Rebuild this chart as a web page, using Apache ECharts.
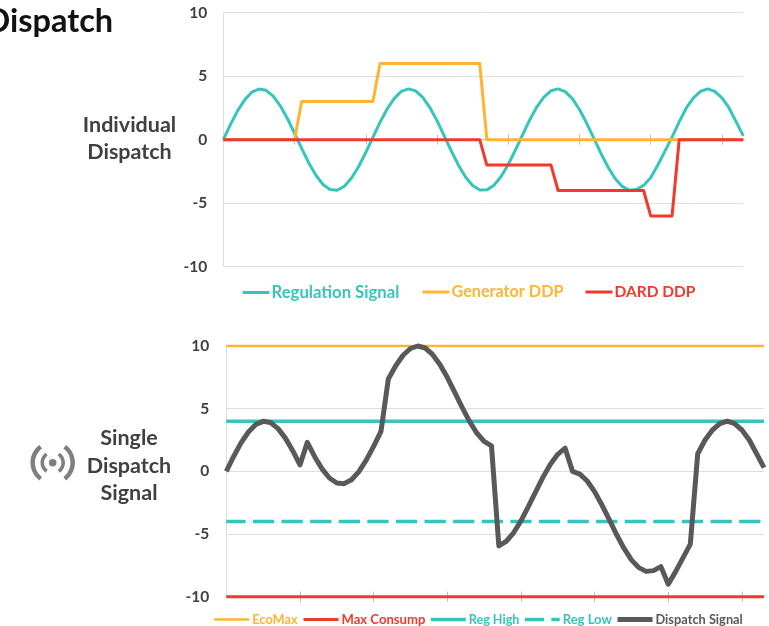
<!DOCTYPE html>
<html>
<head>
<meta charset="utf-8">
<style>html,body{margin:0;padding:0;background:#fff}#c{width:769px;height:626px}</style>
<script src="https://cdn.jsdelivr.net/npm/echarts@6/dist/echarts.min.js"></script>
</head>
<body>
<div id="c"></div>
<script>
const regulationSignal = [0,1.19,2.27,3.14,3.74,3.99,3.89,3.43,2.67,1.67,0.51,-0.69,-1.83,-2.8,-3.53,-3.93,-3.98,-3.67,-3.02,-2.11,-1.01,0.19,1.37,2.42,3.26,3.8,4,3.84,3.33,2.53,1.5,0.32,-0.87,-1.99,-2.94,-3.61,-3.96,-3.95,-3.59,-2.9,-1.95,-0.82,0.37,1.54,2.57,3.36,3.85,4,3.78,3.23,2.38,1.31,0.14,-1.06,-2.15,-3.06,-3.68,-3.98,-3.92,-3.6,-3,-2,-0.9,0.2,1.4,2.5,3.3,3.8,4,3.8,3.3,2.5,1.4,0.3];
const generatorDDP = [0,0,0,0,0,0,0,0,0,0,0,3,3,3,3,3,3,3,3,3,3,3,6,6,6,6,6,6,6,6,6,6,6,6,6,6,6,0,0,0,0,0,0,0,0,0,0,0,0,0,0,0,0,0,0,0,0,0,0,0,0,0,0,0,0,0,0,0,0,0,0,0,0,0];
const dardDDP = [0,0,0,0,0,0,0,0,0,0,0,0,0,0,0,0,0,0,0,0,0,0,0,0,0,0,0,0,0,0,0,0,0,0,0,0,0,-2,-2,-2,-2,-2,-2,-2,-2,-2,-2,-4,-4,-4,-4,-4,-4,-4,-4,-4,-4,-4,-4,-4,-6,-6,-6,-6,0,0,0,0,0,0,0,0,0,0];
const dispatchSignal = [0,1.19,2.27,3.14,3.74,3.99,3.89,3.43,2.67,1.67,0.51,2.31,1.17,0.2,-0.53,-0.93,-0.98,-0.67,-0.02,0.89,1.99,3.19,7.37,8.42,9.26,9.8,10,9.84,9.33,8.53,7.5,6.32,5.13,4.01,3.06,2.39,2.04,-5.95,-5.59,-4.9,-3.95,-2.82,-1.63,-0.46,0.57,1.36,1.85,0,-0.22,-0.77,-1.62,-2.69,-3.86,-5.06,-6.15,-7.06,-7.68,-7.98,-7.92,-7.6,-9,-8,-6.9,-5.8,1.4,2.5,3.3,3.8,4,3.8,3.3,2.5,1.4,0.3];
const ecoMax = [[0,10],[73,10]];
const maxConsump = [[0,-10],[73,-10]];
const regHigh = [[0,4],[73,4]];
const regLow = [[0,-4],[73,-4]];
const tickValues = [10,20,30,40,50,60,70];
const topNames = ['Regulation Signal','Generator DDP','DARD DDP'];
const bottomNames = ['EcoMax','Max Consump','Reg High','Reg Low','Dispatch Signal'];

const TEAL='#36C5BC', ORANGE='#FFB533', RED='#F13A2B', DARK='#595959', GRID='#DEDEDE', TICK='#BDBDBD', TEXT='#404040';
const FONT='Lato';
const xy = a => a.map((v,i)=>[i,v]);

function xAxisFor(grid, inside, main){
  return {type:'value',gridIndex:grid,min:0,max:73,position:'bottom',splitLine:{show:false},axisLabel:{show:false},
    axisLine:{show:true,onZero:true,onZeroAxisIndex:0,lineStyle:{color:main?TICK:'rgba(0,0,0,0)',width:1}},
    axisTick:{show:true,inside:inside,length:5,customValues:tickValues,lineStyle:{color:TICK,width:1}}};
}
function yAxisFor(grid, margin){
  return {type:'value',gridIndex:grid,min:-10,max:10,interval:5,
    axisLine:{show:true,onZero:false,lineStyle:{color:GRID,width:1}},axisTick:{show:false},
    splitLine:{show:true,lineStyle:{color:GRID,width:1}},
    axisLabel:{margin:margin,color:TEXT,fontFamily:FONT,fontWeight:'bold',fontSize:15.5}};
}
function line(name,data,color,width,grid,extra){
  return Object.assign({type:'line',name:name,data:data,xAxisIndex:grid*2,yAxisIndex:grid,
    showSymbol:false,symbol:'none',clip:false,animation:false,silent:true,
    lineStyle:{color:color,width:width,join:'round',cap:'butt'},itemStyle:{color:color}},extra||{});
}
const sideTitle=(text,x,y,size)=>({text:text,left:x,top:y,textAlign:'center',padding:0,
  textStyle:{color:TEXT,fontFamily:FONT,fontWeight:'bold',fontSize:size||21.5}});
const arc=(r,s,e,w)=>({type:'arc',shape:{cx:52.7,cy:462.7,r:r,startAngle:s,endAngle:e,clockwise:true},
  style:{stroke:'#7F7F7F',lineWidth:w,fill:null}});
const rad=d=>d*Math.PI/180;
const legendItem=(name,color,left,top,iconWidth,size,pad)=>({left:left,top:top,itemStyle:{opacity:0},lineStyle:{width:'inherit'},
  itemWidth:iconWidth,itemHeight:14,padding:0,data:[{name:name,textStyle:{color:color}}],
  textStyle:{fontFamily:FONT,fontWeight:'bold',fontSize:size,padding:[0,0,0,pad]}});

const chart=echarts.init(document.getElementById('c'),null,{renderer:'canvas'});
chart.setOption({
  animation:false,
  backgroundColor:'#fff',
  title:[
    {text:'Dispatch',left:-14.5,top:5,padding:0,textStyle:{color:'#111',fontFamily:FONT,fontWeight:'bold',fontSize:32.5}},
    sideTitle('Individual',129.5,114),
    sideTitle('Dispatch',129.5,141),
    sideTitle('Single',129,427),
    sideTitle('Dispatch',129,455),
    sideTitle('Signal',129,482)
  ],
  grid:[
    {left:223.3,top:12.7,width:520,height:254},
    {left:226.3,top:346,width:537.7,height:250.7}
  ],
  xAxis:[xAxisFor(0,true,true),xAxisFor(0,false,false),xAxisFor(1,true,true),xAxisFor(1,false,false)],
  yAxis:[yAxisFor(0,16),yAxisFor(1,17)],
  legend:[
    legendItem(topNames[0],TEAL,241,284,27,16.7,-3),
    legendItem(topNames[1],ORANGE,421,284,27,16.2,-3),
    legendItem(topNames[2],RED,584,284,27,15.5,-3),
    legendItem(bottomNames[0],ORANGE,213,613,35,12.8,-2),
    legendItem(bottomNames[1],RED,302,613,35,13.1,-2),
    legendItem(bottomNames[2],TEAL,429,613,35,12.6,-2),
    legendItem(bottomNames[3],TEAL,523,613,35,13,-2),
    legendItem(bottomNames[4],DARK,615,613,35,12.8,-2)
  ],
  series:[
    line(topNames[0],xy(regulationSignal),TEAL,3,0),
    line(topNames[1],xy(generatorDDP),ORANGE,3,0),
    line(topNames[2],xy(dardDDP),RED,3,0),
    line(bottomNames[0],ecoMax,ORANGE,2.5,1),
    line(bottomNames[1],maxConsump,RED,3,1),
    line(bottomNames[2],regHigh,TEAL,3.5,1),
    line(bottomNames[3],regLow,TEAL,3.5,1,{lineStyle:{color:TEAL,width:3.5,type:[21.3,7.3],dashOffset:2}}),
    line(bottomNames[4],xy(dispatchSignal),DARK,5,1)
  ],
  graphic:[
    {type:'circle',shape:{cx:52.7,cy:462.7,r:3.8},style:{fill:'#7F7F7F'}},
    arc(20,rad(127),rad(233),4.5),
    arc(20,rad(-53),rad(53),4.5),
    arc(10.5,rad(125),rad(235),3.5),
    arc(10.5,rad(-55),rad(55),3.5)
  ]
});
</script>
</body>
</html>
